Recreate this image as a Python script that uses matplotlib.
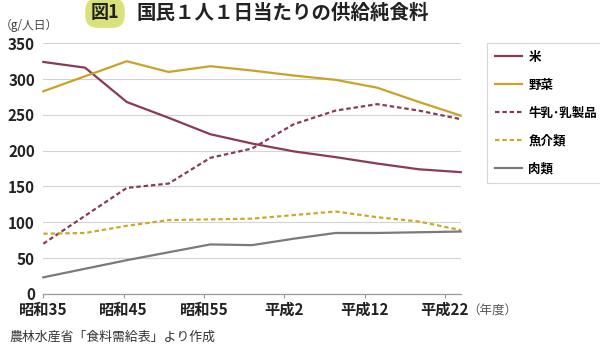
import matplotlib
matplotlib.use('Agg')
import matplotlib.pyplot as plt

plt.rcParams['font.family'] = ['Noto Sans CJK JP', 'DejaVu Sans']

# 年度 (5年ごと)
years = [1960, 1965, 1970, 1975, 1980, 1985, 1990, 1995, 2000, 2005, 2010]

# 供給純食料 (g/人日)
kome = [324, 316, 268, 246, 223, 210, 199, 191, 182, 174, 170]
yasai = [283, 304, 325, 310, 318, 312, 305, 299, 288, 268, 249]
gyunyu = [70, 109, 148, 154, 190, 203, 237, 256, 265, 256, 244]
gyokai = [84, 85, 95, 103, 104, 105, 110, 115, 107, 101, 89]
niku = [23, 35, 47, 58, 69, 68, 77, 85, 85, 86, 87]

labels = ['米', '野菜', '牛乳･乳製品', '魚介類', '肉類']
tick_labels = ['昭和35', '昭和45', '昭和55', '平成2', '平成12', '平成22']

fig = plt.figure(figsize=(6, 3.45), dpi=100)
ax = fig.add_axes([0.0722, 0.1484, 0.6957, 0.726])

maroon = '#8a3a55'
gold = '#c9a227'
gray = '#7a7a7a'
dot = (0, (2.0, 1.3))

ax.plot(years, kome, color=maroon, lw=1.6, label=labels[0], clip_on=False)
ax.plot(years, yasai, color=gold, lw=1.6, label=labels[1], clip_on=False)
ax.plot(years, gyunyu, color=maroon, lw=1.6, ls=dot, label=labels[2], clip_on=False)
ax.plot(years, gyokai, color='#cfa82a', lw=1.6, ls=dot, label=labels[3], clip_on=False)
ax.plot(years, niku, color=gray, lw=1.6, label=labels[4], clip_on=False)

ax.set_xlim(1960, 2010)
ax.set_ylim(0, 350)
ax.set_yticks(range(0, 351, 50))
ax.grid(axis='y', color='#d3d3d3', lw=0.8)
ax.set_axisbelow(True)

# 目盛りは元図どおり約9.6年間隔
tick_pos = [1960 + 9.62 * i for i in range(len(tick_labels))]
ax.set_xticks(tick_pos)
ax.set_xticklabels(tick_labels, fontsize=11, fontweight='bold', color='#222222')
for t in ax.get_yticklabels():
    t.set_fontsize(11)
    t.set_fontweight('bold')
    t.set_color('#222222')
ax.tick_params(axis='y', length=0, pad=6)
ax.tick_params(axis='x', length=3, width=0.8, color='#999999', pad=3)

for s in ['top', 'right', 'left']:
    ax.spines[s].set_visible(False)
ax.spines['bottom'].set_color('#999999')
ax.spines['bottom'].set_linewidth(0.9)

leg = fig.legend(loc='upper left', bbox_to_anchor=(487 / 600, 1 - 43 / 345),
                 frameon=True, fancybox=False, edgecolor='#cccccc',
                 labelspacing=1.2, handlelength=2.2, handletextpad=0.5,
                 borderpad=0.6, borderaxespad=0,
                 prop={'weight': 'bold', 'size': 9})
leg.get_frame().set_linewidth(0.8)

fig.text(105 / 600, 1 - 13 / 345, '図1', fontsize=13, fontweight='bold', color='#222222',
         ha='center', va='center',
         bbox=dict(boxstyle='round,pad=0.3,rounding_size=0.7', fc='#d9e27a', ec='none'))
fig.text(137 / 600, 1 - 13 / 345, '国民１人１日当たりの供給純食料', fontsize=14,
         fontweight='bold', color='#222222', ha='left', va='center')
fig.text(0.0, 1 - 25 / 345, '（g/人日）', fontsize=8.5, color='#444444', ha='left', va='center')
fig.text(492 / 600, 1 - 311 / 345, '（年度）', fontsize=9, color='#555555', ha='center', va='center')
fig.text(10 / 600, 1 - 337 / 345, '農林水産省「食料需給表」より作成', fontsize=9.3,
         color='#333333', ha='left', va='center')

fig.savefig('out.png', dpi=100)
